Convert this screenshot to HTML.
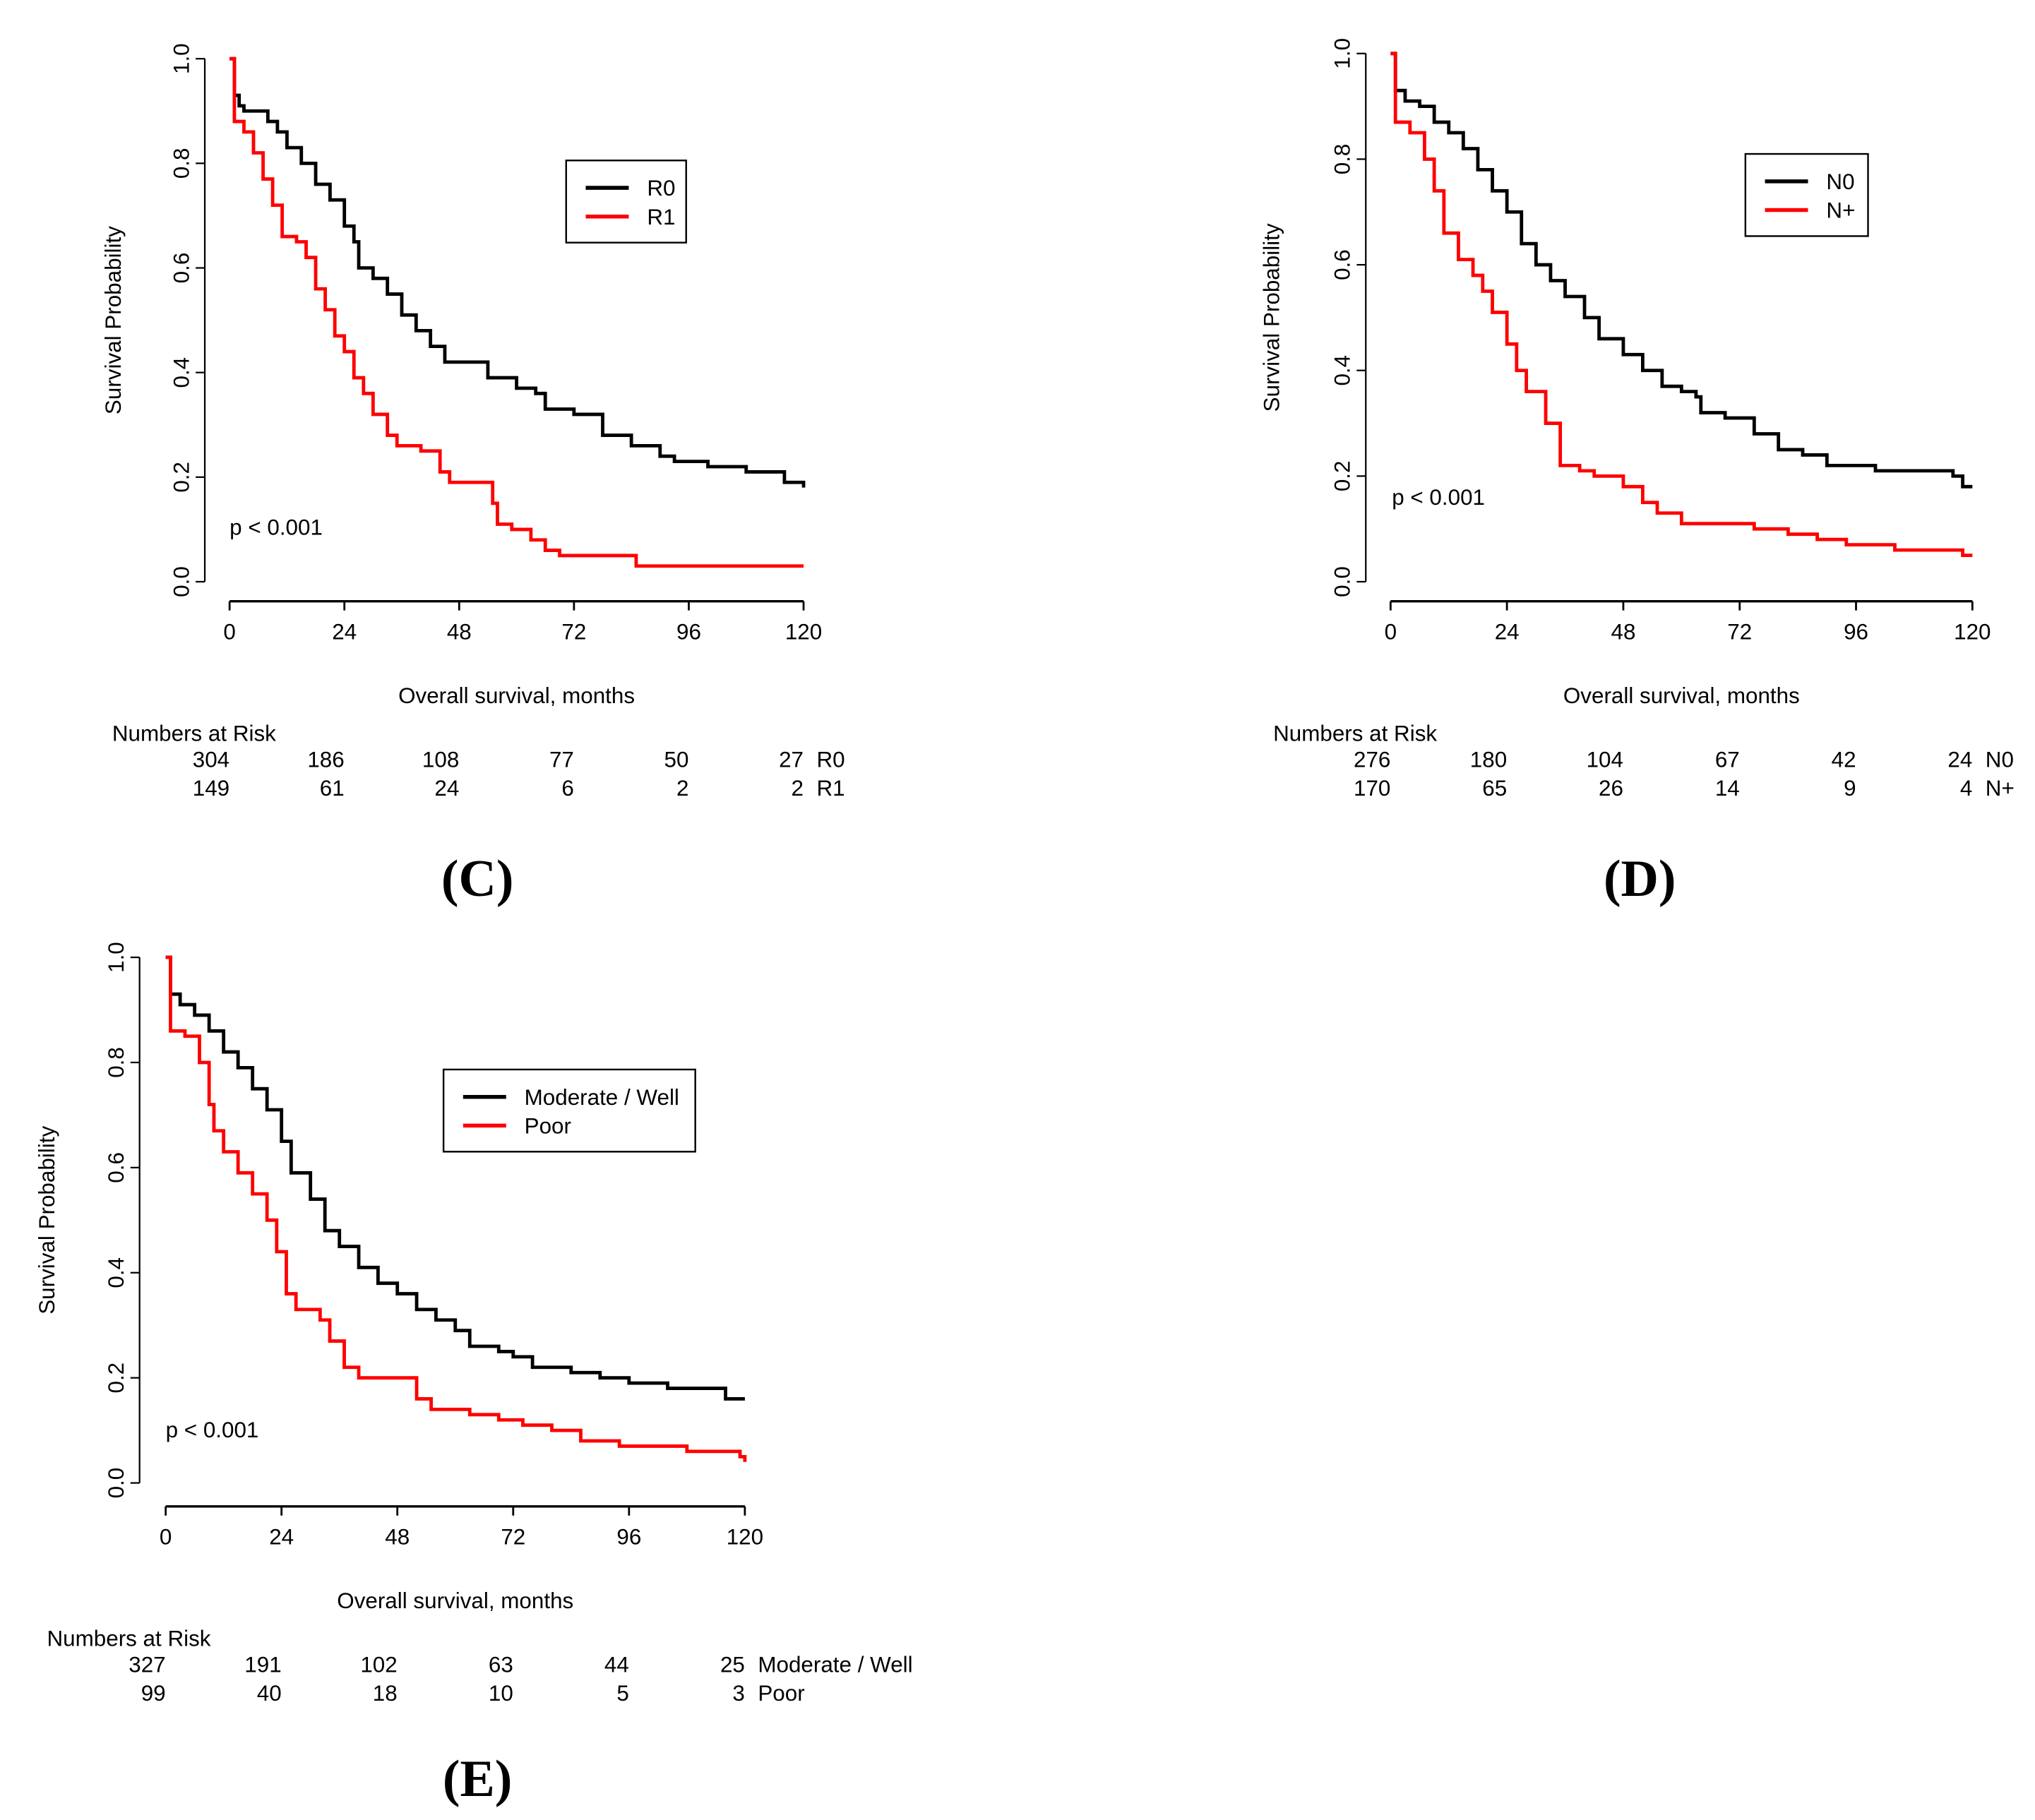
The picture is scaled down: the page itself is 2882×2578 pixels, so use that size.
<!DOCTYPE html>
<html><head><meta charset="utf-8"><style>
html,body{margin:0;padding:0;background:#fff;}
svg{display:block;}
text{font-family:"Liberation Sans",Arial,sans-serif;fill:#000;}
.big{font-family:"Liberation Serif","Times New Roman",serif;font-weight:bold;}
</style></head><body>
<svg id="fig" width="2882" height="2578" viewBox="0 0 1560 1395.4" xmlns="http://www.w3.org/2000/svg"></svg>
<script>
// ---- data ----
const xTicks = [0, 24, 48, 72, 96, 120];
const yTicks = [0.0, 0.2, 0.4, 0.6, 0.8, 1.0];
const yTickLabels = ["0.0","0.2","0.4","0.6","0.8","1.0"];

const cR0Time = [0,1,2,3,6,8,10,12,15,18,21,24,26,27,30,33,36,39,42,45,50,54,60,64,66,72,78,84,90,93,100,108,115,116,120];
const cR0Surv = [1.0,0.93,0.91,0.90,0.90,0.88,0.86,0.83,0.80,0.76,0.73,0.68,0.65,0.60,0.58,0.55,0.51,0.48,0.45,0.42,0.42,0.39,0.37,0.36,0.33,0.32,0.28,0.26,0.24,0.23,0.22,0.21,0.21,0.19,0.18];
const cR1Time = [0,1,3,5,7,9,11,14,16,18,20,22,24,26,28,30,33,35,40,44,46,51,55,56,59,63,66,69,85,120];
const cR1Surv = [1.0,0.88,0.86,0.82,0.77,0.72,0.66,0.65,0.62,0.56,0.52,0.47,0.44,0.39,0.36,0.32,0.28,0.26,0.25,0.21,0.19,0.19,0.15,0.11,0.10,0.08,0.06,0.05,0.03,0.03];

const dN0Time = [0,1,3,6,9,12,15,18,21,24,27,30,33,36,40,43,48,52,56,60,63,64,69,75,80,85,90,96,100,116,118,120];
const dN0Surv = [1.0,0.93,0.91,0.90,0.87,0.85,0.82,0.78,0.74,0.70,0.64,0.60,0.57,0.54,0.50,0.46,0.43,0.40,0.37,0.36,0.35,0.32,0.31,0.28,0.25,0.24,0.22,0.22,0.21,0.20,0.18,0.18];
const dNpTime = [0,1,4,7,9,11,14,17,19,21,24,26,28,32,35,39,42,46,48,52,55,60,67,75,82,88,94,104,118,120];
const dNpSurv = [1.0,0.87,0.85,0.80,0.74,0.66,0.61,0.58,0.55,0.51,0.45,0.40,0.36,0.30,0.22,0.21,0.20,0.20,0.18,0.15,0.13,0.11,0.11,0.10,0.09,0.08,0.07,0.06,0.05,0.05];

const eMwTime = [0,1,3,6,9,12,15,18,21,24,26,30,33,36,40,44,48,52,56,60,63,69,72,76,84,90,96,100,104,115,116,120];
const eMwSurv = [1.0,0.93,0.91,0.89,0.86,0.82,0.79,0.75,0.71,0.65,0.59,0.54,0.48,0.45,0.41,0.38,0.36,0.33,0.31,0.29,0.26,0.25,0.24,0.22,0.21,0.20,0.19,0.19,0.18,0.18,0.16,0.16];
const ePoTime = [0,1,4,7,9,10,12,15,18,21,23,25,27,32,34,37,40,52,55,63,69,74,80,86,94,108,119,120];
const ePoSurv = [1.0,0.86,0.85,0.80,0.72,0.67,0.63,0.59,0.55,0.50,0.44,0.36,0.33,0.31,0.27,0.22,0.20,0.16,0.14,0.13,0.12,0.11,0.10,0.08,0.07,0.06,0.05,0.04];

const cRiskR0 = ["304","186","108","77","50","27"];
const cRiskR1 = ["149","61","24","6","2","2"];
const dRiskN0 = ["276","180","104","67","42","24"];
const dRiskNp = ["170","65","26","14","9","4"];
const eRiskMw = ["327","191","102","63","44","25"];
const eRiskPo = ["99","40","18","10","5","3"];

// ---- drawing ----
const NS = "http://www.w3.org/2000/svg";
const svg = document.getElementById('fig');
function mk(tag, attrs, parent, txt){
  const e = document.createElementNS(NS, tag);
  for (const k in attrs) e.setAttribute(k, attrs[k]);
  if (txt !== undefined) e.textContent = txt;
  (parent || svg).appendChild(e);
  return e;
}

function panel(cfg){
  const g = mk('g', {});
  
  
  const xs = t => cfg.x0 + (t / 120) * (cfg.x1 - cfg.x0);
  const ys = v => cfg.yb - v * (cfg.yb - cfg.yt);
  const ya = mk('g', {}, g);
  
  
  mk('line', {x1:cfg.ax, y1:ys(0), x2:cfg.ax, y2:ys(1), stroke:'#000','stroke-width':1.2}, ya);
  yTicks.forEach((v, i) => {
    mk('line', {x1:cfg.ax-7, y1:ys(v), x2:cfg.ax, y2:ys(v), stroke:'#000','stroke-width':1.2}, ya);
    const t = mk('text', {x:cfg.ax-18, y:ys(v), 'font-size':17, 'text-anchor':'middle', transform:`rotate(-90 ${cfg.ax-18} ${ys(v)})`, 'dominant-baseline':'central'}, ya, yTickLabels[i]);
    
    
  });
  const yt = mk('text', {x:cfg.ytx, y:(ys(0)+ys(1))/2, 'font-size':17, 'text-anchor':'middle', transform:`rotate(-90 ${cfg.ytx} ${(ys(0)+ys(1))/2})`, 'dominant-baseline':'central'}, g, 'Survival Probability');
  
  
  const xa = mk('g', {}, g);
  
  
  mk('line', {x1:xs(0), y1:cfg.ay, x2:xs(120), y2:cfg.ay, stroke:'#000','stroke-width':1.8}, xa);
  xTicks.forEach(t => {
    mk('line', {x1:xs(t), y1:cfg.ay, x2:xs(t), y2:cfg.ay+7, stroke:'#000','stroke-width':1.5}, xa);
    const l = mk('text', {x:xs(t), y:cfg.ay+29, 'font-size':17, 'text-anchor':'middle'}, xa, String(t));
    
    
  });
  const xt = mk('text', {x:cfg.xtx, y:cfg.ay+78, 'font-size':17, 'text-anchor':'middle'}, g, 'Overall survival, months');
  
  
  cfg.series.forEach(s => {
    let d = `M${xs(s.t[0]).toFixed(2)},${ys(s.v[0]).toFixed(2)}`;
    for (let i = 1; i < s.t.length; i++) {
      d += ` H${xs(s.t[i]).toFixed(2)} V${ys(s.v[i]).toFixed(2)}`;
    }
    const p = mk('path', {d:d, fill:'none', stroke:s.color, 'stroke-width':2.6}, g);
    
    
  });
  const pv = mk('text', {x:cfg.px, y:cfg.py, 'font-size':17}, g, 'p < 0.001');
  
  
  const lg = mk('g', {}, g);
  
  
  const L = cfg.leg;
  mk('rect', {x:L.x, y:L.y, width:L.w, height:L.h, fill:'#fff', stroke:'#000','stroke-width':1.3}, lg);
  cfg.series.forEach((s, i) => {
    const yy = L.y + 21 + i * 22;
    const e = mk('g', {}, lg);
    
    
    mk('line', {x1:L.x+15, y1:yy, x2:L.x+48, y2:yy, stroke:s.color, 'stroke-width':3}, e);
    mk('text', {x:L.x+62, y:yy+6, 'font-size':17}, e, s.label);
  });
  const rk = mk('g', {}, g);
  
  
  mk('text', {x:cfg.nx, y:cfg.ay+107, 'font-size':17}, rk, 'Numbers at Risk');
  cfg.series.forEach((s, i) => {
    const yy = cfg.ay + 127 + i * 22;
    s.risk.forEach((r, j) => {
      mk('text', {x:xs(xTicks[j]), y:yy, 'font-size':17, 'text-anchor':'end'}, rk, r);
    });
    mk('text', {x:xs(120)+10, y:yy, 'font-size':17}, rk, s.label);
  });
  const pl = mk('text', {x:cfg.lx, y:cfg.ly, 'font-size':40, 'text-anchor':'middle', class:'big'}, g, cfg.title);
  
  
}

panel({id:'c', ax:157, yt:45, yb:446, x0:176, x1:616, ay:461, ytx:87, xtx:396, nx:86, px:176, py:410,
  leg:{x:434,y:123,w:92,h:63}, lx:366, ly:687, title:'(C)',
  series:[{name:'r0',t:cR0Time,v:cR0Surv,color:'#000',label:'R0',risk:cRiskR0},
          {name:'r1',t:cR1Time,v:cR1Surv,color:'#f00',label:'R1',risk:cRiskR1}]});
panel({id:'d', ax:1047, yt:41, yb:446, x0:1066, x1:1512, ay:461, ytx:975, xtx:1289, nx:976, px:1067, py:387,
  leg:{x:1338,y:118,w:94,h:63}, lx:1257, ly:687, title:'(D)',
  series:[{name:'n0',t:dN0Time,v:dN0Surv,color:'#000',label:'N0',risk:dRiskN0},
          {name:'n-plus',t:dNpTime,v:dNpSurv,color:'#f00',label:'N+',risk:dRiskNp}]});
panel({id:'e', ax:107, yt:734, yb:1137, x0:127, x1:571, ay:1155, ytx:36, xtx:349, nx:36, px:127, py:1102,
  leg:{x:340,y:820,w:193,h:63}, lx:366, ly:1377, title:'(E)',
  series:[{name:'moderate-well',t:eMwTime,v:eMwSurv,color:'#000',label:'Moderate / Well',risk:eRiskMw},
          {name:'poor',t:ePoTime,v:ePoSurv,color:'#f00',label:'Poor',risk:eRiskPo}]});
</script>
</body></html>
